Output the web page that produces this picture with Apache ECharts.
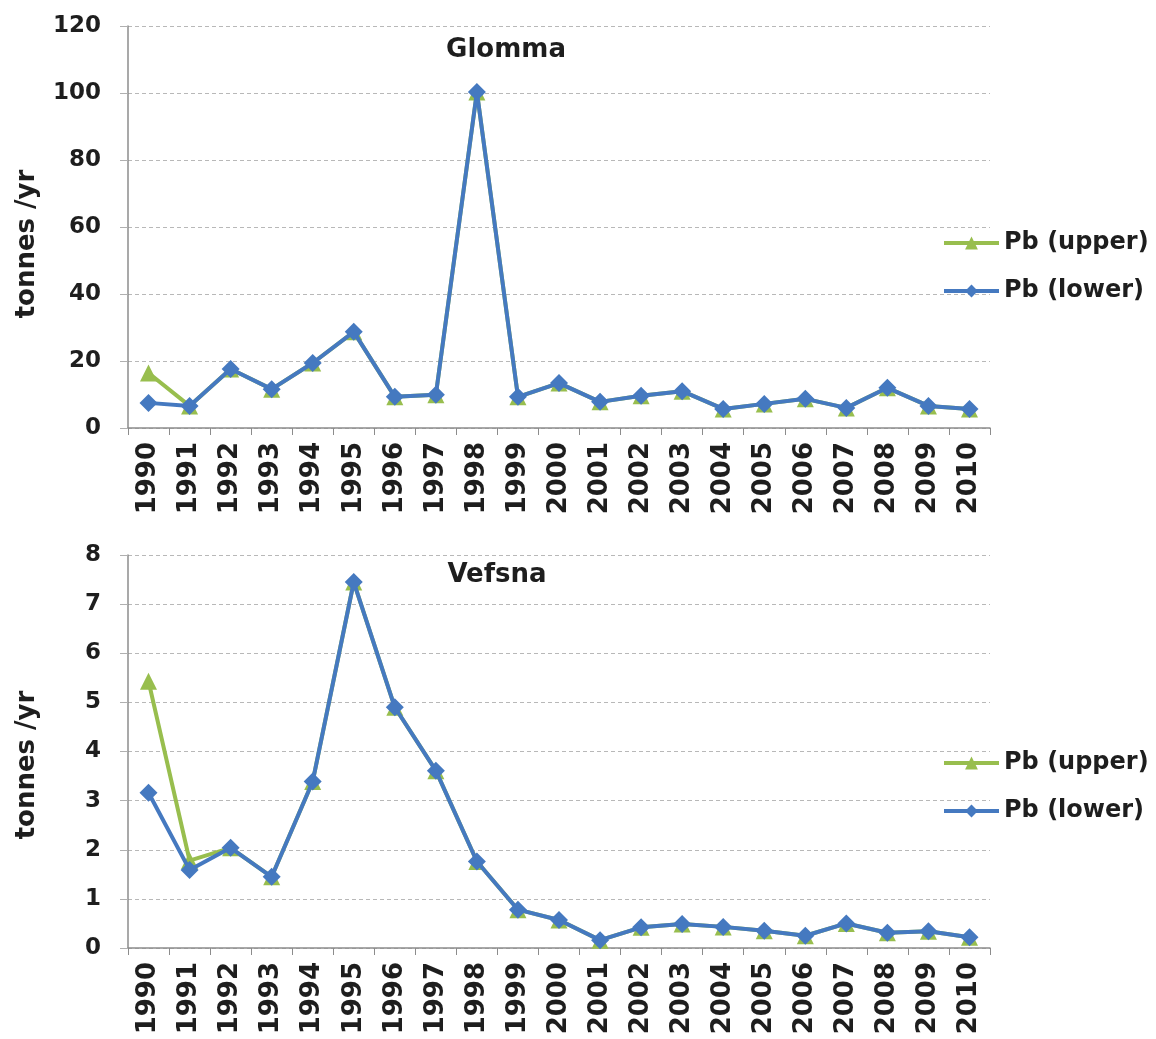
<!DOCTYPE html>
<html>
<head>
<meta charset="utf-8">
<script src="https://cdn.jsdelivr.net/npm/echarts@6/dist/echarts.min.js"></script>
<style>
html,body{margin:0;padding:0;background:#fff;}
#c{width:1156px;height:1039px;}
</style>
</head>
<body>
<div id="c"></div>
<script>
var years = ['1990','1991','1992','1993','1994','1995','1996','1997','1998','1999','2000','2001','2002','2003','2004','2005','2006','2007','2008','2009','2010'];
var glommaUpper = [16.4,6.6,17.6,11.6,19.4,28.7,9.3,9.9,100.3,9.3,13.4,7.8,9.6,11.0,5.7,7.2,8.7,6.0,12.0,6.6,5.7];
var glommaLower = [7.5,6.6,17.6,11.6,19.4,28.7,9.3,9.9,100.3,9.3,13.4,7.8,9.6,11.0,5.7,7.2,8.7,6.0,12.0,6.6,5.7];
var vefsnaUpper = [5.43,1.78,2.04,1.45,3.39,7.45,4.9,3.61,1.76,0.78,0.57,0.16,0.42,0.49,0.43,0.35,0.25,0.5,0.31,0.34,0.22];
var vefsnaLower = [3.16,1.59,2.04,1.45,3.39,7.45,4.9,3.61,1.76,0.78,0.57,0.16,0.42,0.49,0.43,0.35,0.25,0.5,0.31,0.34,0.22];
var titles = ['Glomma','Vefsna'];
var seriesNames = ['Pb (upper)','Pb (lower)'];
var yAxisName = 'tonnes /yr';

var FONT = 'DejaVu Sans';
var TXT = '#1e1e1e';
var GREEN = '#98BE4E';
var BLUE = '#4579C0';
var AXIS = '#8c8c8c';

function xAxis(gi){
  return {
    type:'category', gridIndex:gi, data:years, boundaryGap:true,
    axisLine:{show:true, lineStyle:{color:AXIS, width:1.5}},
    axisTick:{show:true, alignWithLabel:false, length:7, lineStyle:{color:AXIS}},
    axisLabel:{rotate:90, margin:14, interval:0, color:TXT, fontFamily:FONT, fontWeight:'bold', fontSize:26},
    splitLine:{show:false}
  };
}
function yAxis(gi,max,interval){
  return {
    type:'value', gridIndex:gi, min:0, max:max, interval:interval,
    axisLine:{show:true, lineStyle:{color:AXIS, width:1.5}},
    axisTick:{show:true, length:8, lineStyle:{color:'#b0b0b0'}},
    axisLabel:{margin:27, color:TXT, fontFamily:FONT, fontWeight:'bold', fontSize:23},
    splitLine:{show:true, lineStyle:{color:'#b8b8b8', type:[4,3], width:1.2}}
  };
}
function series(name,data,gi,color,symbol,size,z){
  return {
    name:name, type:'line', xAxisIndex:gi, yAxisIndex:gi, data:data,
    symbol:symbol, symbolSize:size, z:z,
    lineStyle:{color:color, width:4},
    itemStyle:{color:color},
    emphasis:{disabled:true}, animation:false
  };
}
function legend(top){
  return {
    data:seriesNames, orient:'vertical', left:937, top:top,
    itemWidth:55, itemHeight:16, itemGap:24,
    lineStyle:{width:4},
    textStyle:{fontFamily:FONT, fontWeight:'bold', fontSize:24, color:TXT}
  };
}
function label(text,x,y,rot,size){
  return {type:'text', x:x, y:y, rotation:rot, style:{text:text, fontFamily:FONT, fontWeight:'bold', fontSize:size, fill:TXT, align:'center', verticalAlign:'middle'}};
}

var chart = echarts.init(document.getElementById('c'), null, {renderer:'canvas'});
chart.setOption({
  backgroundColor:'#fff',
  animation:false,
  legend:[legend(226), legend(746)],
  grid:[
    {left:128, top:26, width:862, height:402, containLabel:false},
    {left:128, top:555, width:862, height:393, containLabel:false}
  ],
  xAxis:[xAxis(0), xAxis(1)],
  yAxis:[yAxis(0,120,20), yAxis(1,8,1)],
  series:[
    series(seriesNames[0], glommaUpper, 0, GREEN, 'triangle', 17, 2),
    series(seriesNames[1], glommaLower, 0, BLUE, 'diamond', 18, 3),
    series(seriesNames[0], vefsnaUpper, 1, GREEN, 'triangle', 17, 2),
    series(seriesNames[1], vefsnaLower, 1, BLUE, 'diamond', 18, 3)
  ],
  graphic:[
    label(titles[0], 506, 50, 0, 26),
    label(titles[1], 497, 575, 0, 26),
    label(yAxisName, 27, 244, Math.PI/2, 26),
    label(yAxisName, 27, 765, Math.PI/2, 26)
  ]
});
</script>
</body>
</html>
